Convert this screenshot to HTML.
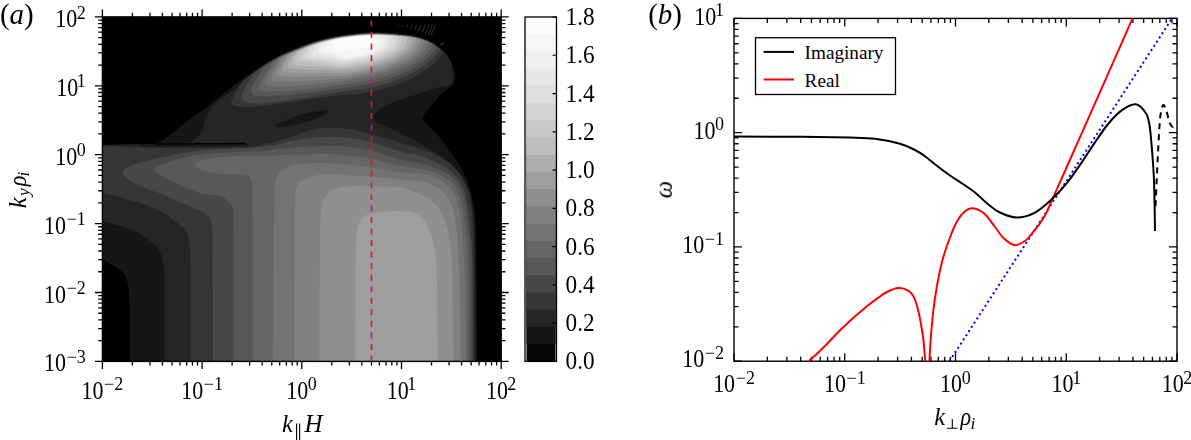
<!DOCTYPE html>
<html><head><meta charset="utf-8"><style>html,body{margin:0;padding:0;background:#fff;overflow:hidden}svg{display:block}</style></head>
<body>
<svg width="1191" height="440" viewBox="0 0 1191 440" font-family="'Liberation Serif', serif" fill="#000">
<rect width="1191" height="440" fill="#fff"/>
<g>
<rect x="102.4" y="16.9" width="398.80" height="344.50" fill="#000"/>
<path d="M104.5 260.7L106.3 261.5 107.9 262.3 109.4 263.1 110.9 264.0 112.5 265.0 114.2 266.1 116.0 267.2 117.8 268.4 119.5 269.7 121.1 271.1 122.5 272.5 123.7 273.9 124.7 275.4 125.5 276.9 126.3 278.5 126.9 280.4 127.5 282.5 128.0 285.0 128.4 287.7 128.7 290.6 128.9 293.7 129.1 296.9 129.3 300.0 129.4 302.7 129.5 304.8 129.6 307.0 129.6 309.9 129.7 314.0 129.7 320.0 129.7 329.0 129.8 340.7 129.8 353.8 129.8 361.4 477.0 361.4 477.0 361.3 476.9 345.0 476.9 328.1 476.8 312.5 476.8 300.0 476.8 290.7 476.7 283.3 476.6 277.1 476.6 271.5 476.5 266.0 476.4 260.0 476.3 253.3 476.2 246.5 476.1 239.8 476.0 233.3 475.8 227.2 475.5 221.8 475.2 217.2 474.8 213.2 474.4 209.7 473.9 206.5 473.3 203.3 472.7 200.0 472.0 196.6 471.2 193.3 470.3 190.1 469.4 187.0 468.4 183.9 467.3 180.9 466.1 178.0 464.8 175.2 463.5 172.4 462.0 169.7 460.5 167.1 459.0 164.5 457.4 161.9 455.7 159.4 454.0 157.0 452.2 154.6 450.4 152.2 448.7 149.8 447.0 147.4 445.3 145.1 443.6 142.7 441.9 140.4 440.2 138.3 438.5 136.2 436.7 134.2 434.9 132.3 433.0 130.5 431.3 128.9 429.7 127.3 428.3 126.0 427.2 124.9 426.3 124.0 425.6 123.3 425.0 122.7 424.5 122.1 424.0 121.5 423.6 120.9 423.4 120.3 423.2 119.8 423.1 119.3 423.1 118.8 423.1 118.3 423.1 117.8 423.1 117.3 423.2 116.8 423.4 116.3 423.6 115.7 424.0 115.0 424.5 114.2 425.0 113.3 425.7 112.4 426.4 111.3 427.3 110.2 428.3 108.9 429.5 107.4 430.9 105.6 432.5 103.7 434.1 101.9 435.5 100.2 436.8 98.7 437.8 97.6 438.6 96.7 439.2 96.0 440.0 95.3 440.8 94.5 441.9 93.5 443.4 92.2 445.2 90.7 447.1 89.1 449.0 87.5 450.7 86.1 452.0 85.0 452.9 84.2 453.5 83.7 453.8 83.3 454.1 82.9 454.3 82.6 454.5 82.0 454.7 81.2 454.9 80.3 455.0 79.3 455.1 78.4 455.1 77.6 455.2 77.0 455.1 76.5 455.1 75.8 455.0 74.9 454.9 74.0 454.7 73.0 454.5 72.0 454.3 71.0 454.0 70.0 453.7 68.9 453.3 67.8 452.9 66.7 452.5 65.5 452.0 64.3 451.5 63.0 450.9 61.8 450.3 60.5 449.7 59.2 449.0 58.0 448.3 56.9 447.5 55.7 446.7 54.7 445.9 53.6 445.0 52.5 444.0 51.5 443.0 50.5 441.9 49.4 440.8 48.4 439.6 47.4 438.3 46.5 437.0 45.5 435.7 44.5 434.3 43.6 432.9 42.6 431.4 41.7 429.8 40.8 428.0 40.0 426.1 39.2 424.0 38.4 421.9 37.7 419.6 37.0 417.3 36.4 415.0 35.8 412.6 35.3 410.1 34.9 407.6 34.6 405.1 34.2 402.5 34.0 400.0 33.7 397.5 33.4 394.9 33.2 392.4 33.0 389.9 32.9 387.4 32.7 385.0 32.6 382.7 32.5 380.5 32.4 378.3 32.3 376.2 32.3 374.1 32.3 372.0 32.3 369.9 32.3 367.9 32.4 365.8 32.5 363.8 32.6 361.9 32.8 360.0 32.9 358.2 33.1 356.5 33.2 354.9 33.4 353.3 33.6 351.6 33.8 350.0 34.0 348.3 34.2 346.7 34.4 345.0 34.6 343.3 34.9 341.7 35.1 340.0 35.4 338.3 35.7 336.7 36.0 335.0 36.3 333.3 36.6 331.7 36.9 330.0 37.3 328.3 37.7 326.7 38.0 325.0 38.4 323.3 38.8 321.7 39.3 320.0 39.7 318.3 40.2 316.7 40.7 315.0 41.2 313.3 41.7 311.7 42.2 310.0 42.8 308.3 43.4 306.7 44.0 305.0 44.6 303.3 45.2 301.7 45.9 300.0 46.5 298.3 47.2 296.7 47.8 295.0 48.5 293.4 49.2 291.7 49.9 290.0 50.6 288.3 51.3 286.7 52.0 285.1 52.6 283.4 53.4 281.6 54.3 279.5 55.3 277.2 56.5 274.6 57.9 271.9 59.4 269.1 61.0 266.3 62.6 263.6 64.3 261.0 66.0 258.3 67.7 255.7 69.5 253.0 71.4 250.4 73.3 247.7 75.2 245.0 77.2 242.1 79.3 239.3 81.5 236.6 83.6 233.9 85.6 231.5 87.5 229.3 89.2 227.3 90.8 225.4 92.2 223.6 93.6 221.8 95.0 220.0 96.5 218.2 98.0 216.4 99.4 214.7 100.8 212.9 102.3 211.0 103.8 209.0 105.3 206.8 107.0 204.4 108.7 201.9 110.5 199.5 112.2 197.1 113.9 195.0 115.5 193.1 116.9 191.5 118.1 190.0 119.2 188.5 120.3 186.9 121.6 185.0 123.0 182.9 124.6 180.6 126.4 178.2 128.3 175.8 130.3 173.4 132.2 171.0 134.0 168.6 135.8 166.1 137.6 163.6 139.3 161.1 141.0 158.9 142.6 157.0 144.0 102.4 145.0 102.4 260.0Z" fill="#161616" fill-rule="evenodd"/>
<path d="M106.6 222.2L111.3 223.4 116.3 224.8 121.4 226.2 126.0 227.6 130.0 229.0 133.3 230.4 136.0 231.7 138.4 233.1 140.7 234.5 142.8 236.0 145.0 237.5 147.3 239.1 149.6 240.6 151.9 242.2 154.0 243.9 155.9 245.7 157.5 247.5 158.8 249.4 159.8 251.5 160.7 253.6 161.3 255.7 161.9 257.9 162.5 260.0 163.0 262.0 163.5 264.0 163.8 265.9 164.1 268.0 164.3 270.1 164.5 272.5 164.6 275.0 164.6 277.5 164.6 280.2 164.6 283.1 164.5 286.3 164.5 290.0 164.5 293.9 164.5 297.8 164.5 302.0 164.6 306.9 164.6 312.8 164.6 320.0 164.6 329.6 164.6 341.5 164.7 354.4 164.7 361.4 475.5 361.4 475.5 361.3 475.5 345.0 475.5 328.1 475.4 312.5 475.4 300.0 475.4 290.7 475.3 283.3 475.3 277.2 475.2 271.7 475.1 266.1 475.0 260.0 474.9 253.2 474.8 246.1 474.7 239.1 474.6 232.2 474.3 225.8 474.0 220.0 473.6 214.9 473.0 210.3 472.4 206.1 471.7 202.2 470.9 198.5 470.0 195.0 468.9 191.6 467.6 188.4 466.2 185.4 464.7 182.7 463.3 180.2 462.0 178.0 460.8 176.2 459.7 174.7 458.6 173.6 457.5 172.5 456.3 171.3 455.0 170.0 453.5 168.4 451.9 166.7 450.2 164.9 448.5 163.2 446.9 161.5 445.3 160.0 443.9 158.7 442.7 157.7 441.5 156.7 440.2 155.7 438.7 154.6 436.8 153.3 434.4 151.8 431.7 150.1 428.8 148.3 425.7 146.4 422.6 144.7 419.7 143.0 416.9 141.5 414.0 140.0 411.2 138.6 408.4 137.3 405.5 135.9 402.7 134.5 399.8 133.0 396.7 131.5 393.7 129.9 390.7 128.5 388.0 127.1 385.6 126.0 383.5 125.1 381.6 124.5 379.9 124.0 378.4 123.6 377.1 123.1 376.0 122.5 375.0 121.7 374.2 120.9 373.6 120.1 373.2 119.2 372.9 118.3 372.8 117.4 372.9 116.5 373.2 115.7 373.6 114.8 374.2 113.9 375.0 113.0 376.0 112.0 377.1 111.0 378.4 109.9 379.9 108.8 381.6 107.7 383.5 106.6 385.6 105.5 388.0 104.4 390.7 103.2 393.7 102.0 396.7 100.9 399.8 99.7 402.7 98.7 405.6 97.7 408.4 96.8 411.3 96.0 414.2 95.2 417.0 94.3 419.7 93.5 422.4 92.6 425.0 91.7 427.5 90.8 430.0 90.0 432.6 89.2 435.1 88.4 437.8 87.8 440.7 87.3 443.6 86.9 446.3 86.4 448.6 85.8 450.4 85.0 451.5 83.9 452.2 82.7 452.4 81.3 452.5 79.8 452.5 78.4 452.5 77.0 452.6 75.6 452.5 74.0 452.4 72.5 452.2 71.1 452.1 69.9 452.0 69.0 451.5 63.3 450.9 62.0 450.3 60.8 449.7 59.5 449.0 58.3 448.3 57.2 447.5 56.0 446.7 55.0 445.9 53.9 445.0 52.8 444.0 51.8 443.0 50.8 441.9 49.7 440.8 48.7 439.6 47.7 438.3 46.8 437.0 45.8 435.7 44.8 434.3 43.9 432.9 42.9 431.4 42.0 429.8 41.1 428.0 40.3 426.1 39.5 424.0 38.7 421.9 38.0 419.6 37.3 417.3 36.7 415.0 36.1 412.6 35.6 410.1 35.2 407.6 34.9 405.1 34.5 402.5 34.3 400.0 34.0 397.5 33.7 394.9 33.5 392.4 33.3 389.9 33.2 387.4 33.0 385.0 32.9 382.7 32.8 380.5 32.7 378.3 32.6 376.2 32.6 374.1 32.6 372.0 32.6 369.9 32.6 367.9 32.7 365.8 32.8 363.8 32.9 361.9 33.1 360.0 33.2 358.2 33.4 356.5 33.5 354.9 33.7 353.3 33.9 351.6 34.1 350.0 34.3 348.3 34.5 346.7 34.7 345.0 34.9 343.3 35.2 341.7 35.4 340.0 35.7 338.3 36.0 336.7 36.3 335.0 36.6 333.3 36.9 331.7 37.2 330.0 37.6 328.3 38.0 326.7 38.3 325.0 38.7 323.3 39.1 321.7 39.6 320.0 40.0 318.3 40.5 316.7 41.0 315.0 41.5 313.3 42.0 311.7 42.5 310.0 43.1 308.3 43.7 306.7 44.3 305.0 44.9 303.3 45.5 301.7 46.2 300.0 46.8 298.3 47.5 296.7 48.1 295.0 48.8 293.4 49.5 291.7 50.2 290.0 50.9 288.3 51.6 286.7 52.3 285.1 52.9 283.4 53.7 281.6 54.6 279.5 55.6 277.2 56.8 276.0 58.0 274.5 59.1 272.3 60.7 269.8 62.6 267.1 64.6 264.4 66.6 262.0 68.5 259.8 70.3 257.8 72.1 255.8 73.9 253.7 75.7 251.4 77.6 249.0 79.5 246.3 81.5 243.3 83.5 240.2 85.6 237.0 87.7 233.9 89.8 231.0 91.8 228.1 93.7 225.3 95.6 222.4 97.4 219.7 99.3 217.2 101.2 215.0 103.2 213.0 105.3 211.3 107.5 209.8 109.7 208.4 112.0 207.2 114.4 206.0 116.8 205.1 119.4 204.4 122.1 203.9 124.9 203.3 127.7 202.6 130.3 201.4 132.7 199.6 134.9 197.4 137.1 194.9 139.1 192.5 140.9 190.4 142.4 189.0 143.5 102.4 145.0 102.4 221.0Z" fill="#252525" fill-rule="evenodd"/>
<path d="M327.2 111.0L326.6 110.7 325.8 110.5 324.7 110.3 323.4 110.3 321.8 110.4 320.0 110.5 318.0 110.8 315.8 111.1 313.4 111.6 310.9 112.1 308.4 112.6 305.7 113.3 303.0 114.0 300.3 114.8 297.6 115.6 294.9 116.4 292.3 117.3 289.9 118.2 287.5 119.1 285.3 120.0 283.3 120.9 281.4 121.7 279.8 122.6 278.4 123.4 277.3 124.1 276.5 124.8 275.9 125.4 275.6 126.0 275.6 126.4 275.8 126.8 276.4 127.1 277.2 127.3 278.3 127.5 279.6 127.5 281.2 127.4 283.0 127.3 285.0 127.0 287.2 126.7 289.6 126.2 292.1 125.7 294.6 125.2 297.3 124.5 300.0 123.8 302.7 123.0 305.4 122.2 308.1 121.4 310.7 120.5 313.1 119.6 315.5 118.7 317.7 117.8 319.7 116.9 321.6 116.1 323.2 115.2 324.6 114.4 325.7 113.7 326.5 113.0 327.1 112.4 327.4 111.8 327.4 111.4Z" fill="#161616" fill-rule="evenodd"/>
<path d="M273.0 104.7L313.7 98.4 328.4 96.4 343.5 94.9 358.5 94.0 373.1 91.4 385.0 88.4 393.0 85.9 403.5 81.9 412.1 77.9 419.5 73.9 428.4 67.9 435.0 62.4 440.5 56.4 442.5 53.8 443.2 52.4 442.6 51.4 440.0 48.9 435.4 45.4 430.8 42.4 426.0 40.2 419.5 38.0 413.0 36.4 407.5 35.5 397.5 34.5 387.5 33.7 376.5 33.3 368.0 33.4 360.0 33.9 348.5 35.2 338.5 36.7 328.0 38.7 318.5 41.1 310.0 43.8 300.0 47.5 285.0 53.7 279.3 56.4 269.4 61.9 260.5 67.4 249.5 75.4 243.0 80.9 239.6 84.9 234.6 93.4 231.8 99.9 231.2 102.4 231.2 103.9 232.3 104.9 233.5 105.6 237.0 106.6 244.5 107.1 250.5 106.9 260.0 106.2ZM474.0 361.3L474.0 345.0 474.0 328.1 474.0 312.5 474.0 300.0 474.0 290.6 474.0 283.0 474.0 276.6 473.9 270.9 473.9 265.6 473.8 260.0 473.7 254.4 473.6 249.1 473.5 244.1 473.4 239.3 473.2 234.6 473.0 230.0 472.8 225.5 472.5 221.1 472.3 216.9 471.9 212.8 471.5 208.8 471.0 205.0 470.4 201.3 469.8 197.9 469.1 194.5 468.2 191.3 467.2 188.1 466.0 185.0 464.6 181.9 462.9 178.9 461.1 175.9 459.2 173.1 457.1 170.5 455.0 168.0 452.8 165.8 450.5 163.8 448.1 162.0 445.5 160.3 442.8 158.6 440.0 157.0 436.9 155.4 433.6 153.8 430.2 152.4 426.7 151.0 423.3 149.7 420.0 148.5 416.8 147.5 413.5 146.6 410.3 145.8 407.3 145.1 404.5 144.4 402.0 143.7 400.1 143.0 398.8 142.5 397.7 141.9 396.5 141.3 395.0 140.7 392.9 140.0 390.0 139.2 386.6 138.2 382.9 137.2 379.0 136.2 375.1 135.2 371.4 134.3 367.8 133.3 364.1 132.4 360.5 131.4 356.9 130.5 353.4 129.6 350.0 129.0 346.8 128.5 343.7 128.2 340.8 127.9 337.9 127.8 335.0 127.7 332.0 127.7 329.0 127.7 326.0 127.7 323.1 127.9 320.1 128.1 317.1 128.5 314.0 129.0 310.8 129.8 307.6 130.8 304.3 132.0 301.1 133.3 297.9 134.4 295.0 135.5 292.2 136.4 289.5 137.4 286.9 138.2 284.5 139.1 282.2 139.8 280.0 140.5 278.2 141.1 276.7 141.6 275.3 142.0 273.9 142.3 272.2 142.7 270.0 143.0 267.6 143.3 265.2 143.6 262.5 143.8 259.3 144.0 255.2 144.2 250.0 144.5 243.4 144.8 235.6 145.2 226.9 145.6 217.8 145.9 208.7 146.2 200.0 146.5 191.6 146.7 183.2 146.8 174.8 146.9 166.5 147.0 158.2 147.0 150.0 147.0 141.4 146.9 132.2 146.7 123.1 146.5 114.7 146.3 107.6 146.1 102.4 146.0 102.4 193.0 107.2 194.2 112.9 195.6 119.0 197.1 125.2 198.7 131.1 200.3 136.4 201.8 141.0 203.3 145.2 204.7 149.1 206.1 152.8 207.6 156.4 209.2 160.0 211.0 163.7 213.1 167.4 215.6 171.1 218.1 174.4 220.7 177.5 223.0 180.0 225.0 182.0 226.5 183.4 227.6 184.5 228.6 185.4 229.5 186.1 230.6 186.8 232.0 187.4 233.8 187.9 235.8 188.2 238.0 188.5 240.3 188.7 242.6 189.0 245.0 189.3 247.1 189.6 248.9 189.9 250.8 190.1 253.1 190.3 256.0 190.5 260.0 190.6 264.7 190.7 269.8 190.7 275.6 190.7 282.4 190.7 290.4 190.7 300.0 190.7 312.5 190.7 328.1 190.7 345.0 190.7 361.3 190.7 361.4 474.0 361.4Z" fill="#363636" fill-rule="evenodd"/>
<path d="M284.1 100.9L331.0 93.2 361.5 89.1 375.0 86.5 386.5 83.4 395.5 80.4 404.5 76.8 412.5 72.9 420.3 68.4 426.7 63.9 432.5 58.9 437.4 53.4 439.6 50.4 439.9 49.4 439.0 48.4 436.5 46.4 431.4 42.9 426.2 40.4 420.4 38.4 415.0 37.0 410.0 36.0 400.0 34.9 390.0 34.0 380.5 33.6 372.0 33.5 364.0 33.8 356.5 34.4 345.0 35.8 336.5 37.2 325.0 39.6 317.0 41.8 308.5 44.5 300.9 47.4 281.5 55.6 271.8 60.9 264.4 65.4 258.1 69.9 254.1 73.4 252.2 75.9 249.3 80.4 243.8 89.9 242.1 94.4 242.0 98.4 242.5 99.7 243.6 100.9 245.0 101.7 248.3 102.9 252.0 103.5 259.5 103.4 272.0 102.4ZM472.5 361.3L472.5 345.0 472.5 328.1 472.5 312.5 472.5 300.0 472.5 290.7 472.5 283.3 472.6 277.2 472.6 271.7 472.5 266.1 472.3 260.0 472.0 253.2 471.7 246.3 471.2 239.4 470.7 232.6 470.2 226.1 469.5 220.0 468.8 214.3 468.1 208.8 467.3 203.6 466.4 198.7 465.3 194.2 464.0 190.0 462.4 186.2 460.7 182.8 458.7 179.8 456.6 177.0 454.4 174.4 452.0 172.0 449.4 169.8 446.6 167.9 443.7 166.3 440.7 164.8 437.8 163.4 435.0 162.0 432.4 160.7 430.0 159.5 427.6 158.3 425.1 157.3 422.7 156.4 420.0 155.5 417.3 154.8 414.7 154.3 412.0 153.9 409.1 153.5 405.8 152.8 402.0 151.9 397.5 150.6 392.3 148.9 386.7 147.0 381.1 145.2 375.7 143.5 371.0 142.1 366.9 141.1 363.1 140.2 359.7 139.5 356.4 138.9 353.2 138.4 350.0 138.0 346.9 137.6 343.9 137.3 341.1 137.1 338.2 136.9 335.2 136.8 332.0 136.8 328.5 136.8 324.9 136.9 321.1 137.1 317.3 137.3 313.6 137.6 310.0 138.0 306.5 138.5 303.0 139.0 299.6 139.6 296.2 140.2 293.0 140.9 290.0 141.5 287.2 142.1 284.6 142.7 282.2 143.4 279.8 144.0 277.4 144.5 275.0 145.0 272.7 145.4 270.6 145.7 268.4 146.0 266.1 146.3 263.4 146.5 260.0 146.8 255.9 147.1 251.1 147.4 245.9 147.6 240.6 147.9 235.2 148.2 230.0 148.5 224.9 148.8 219.6 149.1 214.4 149.4 209.3 149.7 204.4 150.1 200.0 150.5 196.0 150.9 192.5 151.4 189.2 151.9 186.0 152.4 183.0 153.0 180.0 153.5 177.1 154.1 174.3 154.6 171.6 155.2 168.9 155.8 166.3 156.4 163.6 157.0 160.9 157.6 158.1 158.1 155.3 158.7 152.6 159.3 149.9 159.9 147.3 160.5 144.7 161.2 142.1 162.0 139.5 162.8 137.0 163.5 134.7 164.3 132.7 165.0 131.0 165.6 129.4 166.2 128.1 166.8 126.9 167.3 125.9 167.9 125.0 168.5 124.3 169.2 123.7 169.9 123.3 170.6 123.0 171.3 122.8 172.0 122.7 172.7 122.7 173.3 122.8 174.0 123.1 174.6 123.4 175.2 123.9 175.8 124.5 176.5 125.2 177.2 126.0 178.0 127.0 178.8 128.1 179.7 129.4 180.6 131.0 181.5 132.9 182.5 135.1 183.5 137.5 184.6 140.1 185.7 142.8 186.9 145.5 188.0 148.3 189.1 151.3 190.3 154.4 191.5 157.6 192.6 160.6 193.8 163.6 195.0 166.4 196.1 169.1 197.3 171.7 198.4 174.3 199.6 177.1 200.7 180.0 202.0 183.3 203.4 186.8 204.8 190.5 206.3 194.1 207.8 197.3 209.2 200.0 210.5 202.1 211.6 203.7 212.5 205.0 213.3 206.1 214.1 207.1 215.0 208.0 216.0 208.9 217.1 209.6 218.2 210.2 219.3 210.7 220.6 211.1 222.2 211.5 224.0 211.8 225.7 212.0 227.1 212.2 228.8 212.3 231.1 212.4 234.7 212.5 240.0 212.6 247.2 212.7 255.8 212.7 265.7 212.7 276.5 212.8 288.0 212.8 300.0 212.8 313.7 212.8 329.6 212.8 346.2 212.8 361.4 472.5 361.4Z" fill="#484848" fill-rule="evenodd"/>
<path d="M286.5 95.2L312.5 92.2 348.5 87.2 363.3 84.9 373.3 82.9 383.1 80.4 392.5 77.4 401.5 73.9 410.0 69.9 417.0 65.9 423.6 61.4 429.3 56.4 434.0 51.1 436.1 47.9 436.4 46.9 435.4 45.9 432.7 43.9 428.2 41.4 421.6 38.9 416.2 37.4 410.0 36.2 402.5 35.3 392.5 34.3 383.0 33.8 374.5 33.6 368.0 33.7 353.5 34.9 336.5 37.3 326.5 39.4 318.5 41.5 311.5 43.7 303.5 46.6 283.7 54.9 277.9 57.9 271.0 61.9 266.5 64.9 264.1 66.9 262.8 68.4 261.1 70.9 254.4 81.9 251.9 86.9 251.1 90.4 251.2 91.9 251.7 92.9 253.0 94.6 254.0 95.2 257.0 96.1 264.0 96.4 273.5 96.1ZM470.5 361.3L470.5 345.0 470.5 328.1 470.5 312.5 470.5 300.0 470.5 290.7 470.6 283.3 470.6 277.2 470.6 271.7 470.6 266.1 470.4 260.0 470.1 253.2 469.7 246.2 469.3 239.2 468.8 232.4 468.2 226.0 467.5 220.0 466.8 214.5 466.0 209.3 465.2 204.4 464.3 199.9 463.2 195.8 462.0 192.0 460.7 188.7 459.3 185.8 457.7 183.3 456.0 181.1 454.1 179.0 452.0 177.0 449.5 175.1 446.8 173.4 443.8 171.9 440.8 170.5 437.8 169.2 435.0 168.0 432.4 166.9 430.0 166.0 427.6 165.1 425.1 164.4 422.7 163.7 420.0 163.0 417.3 162.5 414.7 162.1 412.0 161.8 409.1 161.5 405.8 160.9 402.0 160.1 397.5 158.8 392.3 157.2 386.7 155.3 381.1 153.5 375.7 151.8 371.0 150.5 366.9 149.5 363.1 148.8 359.7 148.2 356.4 147.8 353.2 147.4 350.0 147.0 347.0 146.7 344.3 146.4 341.7 146.2 338.9 146.0 335.8 145.9 332.0 145.9 327.4 145.9 322.1 146.1 316.4 146.2 310.7 146.4 305.1 146.7 300.0 147.0 295.3 147.3 290.8 147.8 286.4 148.2 282.3 148.7 278.5 149.1 275.0 149.5 272.1 149.8 269.8 150.1 267.8 150.3 265.7 150.5 263.3 150.8 260.0 151.0 255.9 151.2 251.1 151.5 245.9 151.7 240.6 152.0 235.2 152.2 230.0 152.5 224.9 152.8 219.6 153.1 214.4 153.3 209.3 153.7 204.4 154.0 200.0 154.5 196.0 155.0 192.5 155.6 189.2 156.3 186.0 157.0 183.0 157.7 180.0 158.5 176.9 159.3 173.9 160.2 171.0 161.1 168.2 162.0 165.7 162.9 163.6 163.6 161.9 164.2 160.5 164.7 159.4 165.1 158.5 165.6 157.7 166.0 157.0 166.5 156.3 167.1 155.7 167.7 155.2 168.3 154.8 168.9 154.6 169.5 154.5 170.0 154.5 170.5 154.6 170.8 154.9 171.2 155.3 171.6 155.8 172.0 156.5 172.5 157.3 173.1 158.1 173.7 159.1 174.4 160.4 175.2 161.8 176.0 163.6 177.0 165.8 178.1 168.2 179.4 171.0 180.8 173.9 182.2 177.0 183.6 180.0 185.0 183.1 186.4 186.3 187.9 189.7 189.4 193.1 190.8 196.5 192.1 200.0 193.2 203.7 194.0 207.7 194.5 211.7 195.0 215.5 195.3 219.0 195.8 221.8 196.5 223.9 197.4 225.4 198.5 226.5 199.6 227.4 200.8 228.2 202.0 229.0 203.0 229.8 203.7 230.5 204.1 231.1 204.5 231.7 205.1 232.1 206.2 232.5 208.0 232.8 210.1 233.0 212.3 233.2 214.9 233.3 218.5 233.4 223.4 233.5 230.0 233.6 238.7 233.7 249.2 233.7 261.1 233.7 273.8 233.8 286.9 233.8 300.0 233.8 314.3 233.8 330.4 233.8 346.9 233.8 361.4 470.5 361.4Z" fill="#585858" fill-rule="evenodd"/>
<path d="M304.1 89.4L321.0 87.4 346.0 84.1 367.7 80.4 376.6 78.4 383.9 76.4 393.0 73.4 400.5 70.4 408.8 66.4 415.7 62.4 421.9 57.9 426.4 53.9 430.5 49.0 432.9 44.9 432.6 44.4 431.4 43.4 426.6 40.9 419.4 38.4 413.3 36.9 407.5 36.0 397.5 34.9 378.5 33.8 372.0 33.8 363.5 34.1 356.5 34.7 346.5 35.9 333.0 38.2 318.5 41.7 311.5 44.0 303.5 46.9 285.5 54.4 281.4 56.4 277.0 58.9 274.2 60.9 272.7 62.4 266.2 72.4 261.5 80.4 259.4 84.9 259.0 86.4 258.9 87.9 259.5 89.9 260.1 90.4 261.5 90.9 266.0 91.4 276.0 91.4 288.0 90.8ZM468.2 361.3L468.2 345.0 468.2 328.1 468.2 312.5 468.2 300.0 468.2 290.7 468.1 283.1 468.1 276.9 468.0 271.3 467.8 265.9 467.6 260.0 467.3 253.8 467.0 247.7 466.6 241.7 466.1 235.9 465.6 230.3 465.0 225.0 464.4 219.9 463.7 215.0 463.0 210.4 462.1 206.0 461.2 201.8 460.0 198.0 458.7 194.5 457.4 191.3 455.9 188.4 454.3 185.8 452.3 183.3 450.0 181.0 447.3 178.9 444.4 177.0 441.1 175.2 437.6 173.7 433.9 172.3 430.0 171.0 425.8 169.9 421.4 169.1 416.7 168.5 411.9 167.8 406.9 167.1 402.0 166.2 396.9 165.0 391.5 163.7 386.1 162.2 380.7 160.8 375.6 159.5 371.0 158.5 366.9 157.8 363.1 157.3 359.7 156.9 356.4 156.6 353.2 156.3 350.0 156.0 347.0 155.6 344.3 155.2 341.7 154.9 338.9 154.5 335.8 154.3 332.0 154.1 327.4 154.0 322.1 154.0 316.5 154.1 310.7 154.2 305.1 154.4 300.0 154.5 295.2 154.6 290.4 154.8 285.9 155.0 281.6 155.2 277.6 155.4 274.0 155.5 271.0 155.6 268.5 155.7 266.4 155.8 264.4 155.9 262.3 156.0 260.0 156.0 257.4 156.0 254.8 156.0 252.1 156.0 249.3 156.0 246.5 156.0 243.6 156.0 240.7 156.1 237.7 156.2 234.7 156.3 231.6 156.4 228.5 156.6 225.5 156.8 222.4 157.1 219.1 157.4 215.9 157.8 212.7 158.2 209.8 158.7 207.3 159.1 205.2 159.5 203.3 160.0 201.7 160.5 200.3 161.0 199.1 161.5 198.0 162.0 197.0 162.6 196.1 163.1 195.5 163.7 194.9 164.3 194.6 164.9 194.5 165.5 194.6 166.0 194.9 166.5 195.4 167.0 196.1 167.5 197.0 168.0 198.0 168.5 199.1 169.0 200.3 169.6 201.7 170.2 203.3 170.7 205.2 171.3 207.3 171.8 209.8 172.3 212.6 172.8 215.7 173.3 218.9 173.8 222.2 174.2 225.5 174.5 229.0 174.7 232.9 174.7 236.8 174.7 240.6 174.7 243.9 174.8 246.4 175.0 248.1 175.4 249.1 175.8 249.6 176.4 249.8 177.0 250.1 177.7 250.4 178.5 250.9 179.3 251.2 180.1 251.6 181.0 251.9 182.1 252.1 183.4 252.3 185.0 252.5 186.0 252.6 186.2 252.6 186.7 252.6 188.4 252.7 192.5 252.7 200.0 252.7 211.9 252.8 227.6 252.8 245.6 252.8 264.6 252.8 283.2 252.8 300.0 252.8 316.0 252.8 332.6 252.8 348.8 252.8 361.4 468.2 361.4Z" fill="#666666" fill-rule="evenodd"/>
<path d="M311.0 84.7L346.0 80.7 368.5 76.7 375.5 75.1 383.0 73.1 392.0 70.1 399.5 67.1 406.5 63.7 413.5 59.6 419.0 55.6 423.5 51.4 427.0 46.9 429.1 42.9 428.8 42.4 428.1 41.9 423.5 39.9 417.0 37.9 412.5 36.9 405.0 35.8 395.0 34.8 376.0 33.9 368.0 34.0 360.0 34.5 343.5 36.5 331.5 38.7 318.0 42.1 306.5 46.0 291.9 51.9 282.2 56.4 279.2 58.4 277.8 59.9 271.3 69.9 267.5 76.4 265.3 80.9 264.8 82.9 264.9 83.9 266.0 85.1 269.0 86.2 275.5 86.5 285.0 86.4 296.0 85.9ZM466.0 361.3L465.9 345.0 465.8 328.1 465.7 312.5 465.5 300.0 465.3 290.7 465.1 283.1 464.9 276.9 464.6 271.3 464.3 265.9 464.0 260.0 463.7 253.8 463.3 247.6 463.0 241.6 462.6 235.7 462.1 230.2 461.5 225.0 460.9 220.2 460.2 215.6 459.5 211.3 458.6 207.3 457.7 203.5 456.5 200.0 455.2 196.7 453.8 193.7 452.3 191.0 450.6 188.5 448.7 186.2 446.4 184.0 443.8 182.0 440.9 180.2 437.8 178.7 434.5 177.3 430.9 176.0 427.3 175.0 423.5 174.2 419.5 173.7 415.4 173.4 411.1 173.2 406.6 172.9 402.0 172.4 397.0 171.7 391.7 170.8 386.2 169.9 380.8 169.0 375.7 168.2 371.0 167.5 366.9 166.9 363.1 166.5 359.7 166.1 356.4 165.7 353.2 165.3 350.0 165.0 346.9 164.6 344.1 164.3 341.4 163.9 338.6 163.6 335.5 163.4 332.0 163.2 327.8 163.1 323.1 163.1 318.0 163.1 313.1 163.2 308.4 163.3 304.5 163.5 301.3 163.8 298.5 164.1 296.1 164.5 293.9 164.9 291.9 165.4 290.0 166.0 288.1 166.7 286.4 167.4 284.9 168.2 283.5 169.1 282.2 170.0 281.0 171.0 280.0 172.0 279.1 173.1 278.3 174.2 277.6 175.4 277.0 176.6 276.5 178.0 276.0 179.5 275.6 181.0 275.3 182.7 275.0 184.4 274.8 186.2 274.6 188.0 274.5 188.9 274.4 188.6 274.3 188.4 274.3 189.4 274.3 192.9 274.2 200.0 274.1 211.7 273.9 227.4 273.7 245.4 273.5 264.5 273.3 283.2 273.2 300.0 273.1 316.0 273.1 332.6 273.0 348.8 273.0 361.4 466.0 361.4Z" fill="#737373" fill-rule="evenodd"/>
<path d="M346.5 78.0L368.0 74.1 375.0 72.5 382.0 70.6 390.5 67.7 398.0 64.7 405.0 61.2 411.2 57.4 416.5 53.4 420.5 49.4 423.4 45.4 425.1 41.4 424.8 40.9 424.0 40.4 419.9 38.9 414.2 37.4 408.3 36.4 397.5 35.2 390.0 34.6 380.5 34.2 372.0 34.1 358.0 34.8 342.0 36.8 330.0 39.2 318.5 42.1 306.0 46.4 291.5 52.4 283.5 56.4 281.7 57.9 280.6 59.4 275.5 67.4 272.3 73.4 271.6 75.4 271.4 77.4 272.0 79.9 272.5 80.4 273.5 80.8 277.5 81.3 292.0 81.4 316.5 80.4ZM460.9 361.3L460.7 345.0 460.5 328.1 460.2 312.5 460.0 300.0 459.8 290.6 459.6 283.0 459.3 276.6 459.1 270.9 458.9 265.6 458.6 260.0 458.4 254.3 458.1 249.0 457.9 243.9 457.6 239.0 457.2 234.4 456.8 230.0 456.3 225.8 455.7 221.9 455.1 218.2 454.4 214.7 453.5 211.4 452.5 208.2 451.4 205.2 450.1 202.3 448.8 199.6 447.3 197.0 445.6 194.7 443.6 192.5 441.4 190.5 439.0 188.6 436.5 187.0 433.7 185.5 430.6 184.1 427.3 183.0 423.7 182.1 419.7 181.5 415.6 181.0 411.2 180.6 406.7 180.3 402.0 179.8 397.0 179.2 391.7 178.6 386.2 178.0 380.8 177.4 375.7 176.9 371.0 176.5 366.9 176.2 363.1 176.0 359.7 175.9 356.4 175.8 353.2 175.7 350.0 175.5 346.8 175.3 343.7 175.0 340.7 174.8 337.7 174.5 334.8 174.4 332.0 174.3 329.2 174.3 326.5 174.4 323.8 174.6 321.2 174.8 318.8 175.1 316.4 175.5 314.1 176.0 311.9 176.6 309.9 177.3 307.9 178.0 306.1 178.7 304.5 179.5 303.1 180.2 301.9 181.0 300.9 181.8 300.0 182.6 299.2 183.5 298.5 184.5 297.8 185.5 297.3 186.6 296.8 187.8 296.4 189.0 296.1 190.4 295.8 192.0 295.6 192.9 295.4 192.9 295.3 193.0 295.2 194.4 295.1 198.0 295.0 205.0 294.9 216.2 294.8 231.0 294.8 248.0 294.7 266.0 294.6 283.8 294.6 300.0 294.6 315.7 294.5 332.2 294.5 348.4 294.5 361.4 460.9 361.4Z" fill="#818181" fill-rule="evenodd"/>
<path d="M349.5 75.3L356.0 73.9 365.1 72.4 371.9 70.9 379.5 68.9 387.1 66.4 393.5 63.9 400.8 60.4 406.0 57.4 411.0 53.9 414.9 50.4 417.9 46.9 420.0 43.1 420.7 40.9 420.8 39.9 419.0 38.9 415.5 37.9 407.1 36.4 391.8 34.9 374.0 34.2 364.0 34.5 353.5 35.5 340.0 37.3 328.5 39.7 318.5 42.3 308.5 45.7 296.7 50.4 288.4 54.4 287.0 55.4 286.1 56.4 281.3 63.9 277.7 70.4 276.8 72.4 276.5 73.9 276.9 74.9 278.0 75.6 280.5 76.2 283.5 76.5 296.0 76.7 318.5 76.4 345.0 75.7ZM453.3 361.3L453.2 345.0 453.1 328.1 452.9 312.5 452.8 300.0 452.7 290.5 452.5 282.5 452.4 275.7 452.2 269.9 452.0 264.8 451.8 260.0 451.6 256.0 451.4 253.0 451.1 250.6 450.8 248.6 450.5 246.4 450.0 243.6 449.5 240.2 448.8 236.6 448.2 232.8 447.4 229.0 446.5 225.3 445.5 222.0 444.4 219.0 443.2 216.1 441.9 213.3 440.5 210.8 438.9 208.3 437.0 206.0 434.9 203.8 432.6 201.8 430.1 199.9 427.5 198.2 424.7 196.5 421.8 195.0 418.8 193.5 415.6 192.2 412.3 190.9 408.9 189.8 405.5 188.8 402.0 188.0 398.4 187.4 394.8 187.0 391.0 186.7 387.3 186.6 383.6 186.5 380.0 186.3 376.5 186.1 373.2 186.0 369.8 185.9 366.5 185.8 363.3 185.8 360.0 185.8 356.7 185.9 353.3 186.0 349.9 186.2 346.6 186.4 343.6 186.8 340.9 187.2 338.6 187.7 336.5 188.3 334.6 189.0 333.0 189.7 331.4 190.6 330.0 191.5 328.7 192.5 327.5 193.6 326.5 194.8 325.6 196.1 324.8 197.5 324.0 199.0 323.3 200.6 322.8 202.3 322.3 204.0 322.0 205.9 321.6 207.9 321.3 210.0 321.0 211.6 320.8 212.5 320.7 213.5 320.5 215.4 320.4 219.0 320.3 225.0 320.2 233.9 320.0 245.2 319.9 258.1 319.8 272.0 319.7 286.2 319.6 300.0 319.5 314.6 319.5 330.7 319.5 347.2 319.4 361.4 453.3 361.4Z" fill="#8f8f8f" fill-rule="evenodd"/>
<path d="M375.8 67.4L386.6 63.9 391.6 61.9 396.9 59.4 404.6 54.9 408.5 51.9 411.2 49.4 413.5 46.6 415.0 44.1 416.1 41.4 416.4 38.9 415.8 38.4 412.2 37.4 401.3 35.9 387.5 34.8 374.0 34.3 365.5 34.6 355.0 35.4 341.5 37.2 332.8 38.9 321.5 41.7 311.4 44.9 299.8 49.4 291.4 53.4 289.5 54.9 286.5 59.4 283.4 64.9 282.6 66.9 282.3 68.4 282.5 70.4 283.5 71.7 285.3 72.4 288.0 72.8 297.0 73.0 334.0 73.2 345.5 73.2 349.0 72.9 365.5 69.9ZM437.6 361.2L437.5 344.9 437.4 328.0 437.3 312.4 437.2 300.0 437.1 290.7 437.0 282.9 436.8 276.5 436.7 271.1 436.5 266.3 436.3 262.0 436.1 258.4 435.9 255.9 435.6 254.1 435.3 252.6 435.0 251.0 434.6 249.0 434.1 246.6 433.6 244.0 433.1 241.4 432.4 238.9 431.8 236.3 431.0 234.0 430.2 231.8 429.2 229.6 428.2 227.5 427.2 225.5 426.1 223.7 425.0 222.0 423.9 220.5 422.8 219.2 421.6 217.9 420.4 216.9 419.2 215.9 418.0 215.0 416.7 214.2 415.5 213.6 414.2 213.0 412.9 212.5 411.5 212.1 410.0 211.8 408.5 211.5 407.1 211.4 405.6 211.3 403.9 211.2 402.1 211.2 400.0 211.2 397.5 211.2 394.6 211.3 391.6 211.3 388.5 211.4 385.5 211.6 382.7 211.8 380.1 212.0 377.7 212.3 375.3 212.6 373.0 213.0 370.9 213.4 369.0 214.0 367.3 214.7 365.7 215.5 364.4 216.4 363.1 217.3 362.0 218.4 361.0 219.5 360.1 220.7 359.4 222.0 358.8 223.3 358.3 224.8 357.9 226.3 357.5 228.0 357.2 229.2 356.9 230.0 356.7 230.8 356.5 232.3 356.4 235.2 356.2 240.0 356.0 246.9 355.8 255.5 355.7 265.4 355.5 276.4 355.4 288.0 355.3 300.0 355.2 313.7 355.1 329.6 355.1 346.2 355.1 361.4 437.6 361.4Z" fill="#9e9e9e" fill-rule="evenodd"/>
<path d="M355.5 69.0L365.0 67.4 375.1 64.9 385.7 61.4 394.6 57.4 399.0 54.9 402.1 52.9 405.2 50.4 408.0 47.6 410.0 44.9 411.2 42.4 411.8 39.9 411.9 38.4 411.6 37.9 410.4 37.4 407.9 36.9 394.4 35.4 382.5 34.7 372.0 34.5 364.0 34.8 355.0 35.6 341.5 37.4 333.0 39.0 323.2 41.4 314.9 43.9 304.1 47.9 296.4 51.4 294.3 52.9 291.7 56.9 288.8 61.9 288.0 63.9 287.6 65.4 287.9 66.9 289.0 67.9 290.5 68.4 293.0 68.7 336.5 70.6 345.5 70.7 349.0 70.4Z" fill="#aeaeae" fill-rule="evenodd"/>
<path d="M355.0 66.6L366.0 64.6 374.7 62.4 384.9 58.9 392.5 55.4 396.0 53.4 399.6 50.9 402.0 48.9 404.4 46.4 406.0 43.9 407.0 41.5 407.3 38.9 406.9 37.4 405.5 36.9 402.4 36.4 392.4 35.4 380.5 34.8 372.0 34.7 364.0 35.0 355.0 35.7 342.0 37.4 335.0 38.8 325.0 41.1 317.1 43.4 307.3 46.9 300.5 49.9 298.4 51.4 297.0 53.3 293.7 58.9 292.7 61.9 292.9 63.4 293.5 64.2 295.2 64.9 298.0 65.4 313.0 66.2 338.0 68.1 345.5 68.3 349.5 67.9Z" fill="#bebebe" fill-rule="evenodd"/>
<path d="M354.5 64.5L365.9 62.4 373.5 60.4 382.3 57.4 389.8 53.9 393.3 51.9 396.1 49.9 398.4 47.9 400.5 45.5 401.8 43.4 402.5 41.4 402.6 39.4 402.3 37.4 401.9 36.9 400.0 36.4 396.1 35.9 382.5 35.0 372.0 34.8 364.0 35.1 356.5 35.7 343.5 37.4 337.0 38.5 327.0 40.8 319.4 42.9 310.6 45.9 304.8 48.4 302.5 49.9 301.5 51.3 298.5 56.3 297.7 58.9 298.1 60.4 299.0 61.3 300.5 61.9 302.5 62.3 316.0 63.2 338.5 65.9 345.0 66.2 348.5 66.0Z" fill="#c8c8c8" fill-rule="evenodd"/>
<path d="M354.5 62.4L365.0 60.4 372.5 58.5 381.0 55.4 387.3 52.4 392.6 48.9 394.8 46.9 396.5 44.9 397.5 42.9 398.0 40.9 398.0 39.4 397.4 36.9 396.7 36.4 393.6 35.9 387.3 35.4 378.0 35.0 370.0 35.0 356.5 35.9 345.0 37.3 338.2 38.4 329.3 40.4 321.8 42.4 315.5 44.4 309.3 46.9 307.7 47.9 306.9 48.9 304.1 53.4 302.8 56.4 302.7 57.4 303.3 58.4 304.5 59.1 306.5 59.7 317.7 60.4 340.0 63.9 345.0 64.2 348.5 63.9Z" fill="#d4d4d4" fill-rule="evenodd"/>
<path d="M354.0 60.6L364.0 58.8 370.0 57.2 377.5 54.6 384.2 51.4 389.3 47.9 391.0 46.2 392.4 44.4 393.1 42.9 393.4 40.9 392.7 36.9 392.3 36.4 390.3 35.9 384.1 35.4 376.0 35.1 368.0 35.2 354.5 36.2 343.0 37.7 336.6 38.9 322.5 42.4 317.8 43.9 314.0 45.4 312.5 46.4 311.7 47.4 308.9 51.9 307.7 54.9 307.7 56.4 308.5 57.0 310.0 57.4 322.3 58.4 336.0 61.3 341.0 62.1 345.5 62.3 349.0 61.9Z" fill="#dedede" fill-rule="evenodd"/>
<path d="M354.0 59.1L362.0 57.6 368.5 55.9 375.5 53.4 381.5 50.4 384.4 48.4 386.1 46.9 387.5 45.2 388.5 43.4 388.8 40.9 388.3 38.4 387.7 36.4 386.4 35.9 380.2 35.4 368.0 35.4 356.5 36.2 339.8 38.4 326.9 41.4 321.8 42.9 317.8 44.4 316.9 44.9 316.0 45.9 312.4 51.9 312.3 52.9 312.5 53.9 313.6 54.9 315.0 55.4 317.9 55.9 326.0 56.6 336.6 59.4 341.3 60.4 345.0 60.7 348.5 60.4Z" fill="#e7e7e7" fill-rule="evenodd"/>
<path d="M354.0 57.6L360.8 56.4 366.4 54.9 373.2 52.4 378.0 49.9 381.8 46.9 383.1 45.4 383.9 43.9 384.2 42.4 384.2 41.4 382.9 36.4 382.0 35.9 376.0 35.5 370.0 35.5 363.5 35.8 356.5 36.3 347.7 37.4 340.7 38.4 335.9 39.4 326.2 41.9 322.4 43.4 321.1 44.9 317.5 51.4 317.9 52.4 320.0 53.4 329.5 54.4 332.5 55.3 339.0 57.9 342.0 58.8 345.0 59.2 348.5 58.9Z" fill="#f0f0f0" fill-rule="evenodd"/>
<path d="M353.0 56.4L353.5 55.9 356.0 55.8 356.5 55.5 358.1 55.4 359.0 55.0 360.5 54.9 361.0 54.5 362.5 54.4 363.0 54.0 364.0 53.9 364.5 53.6 367.0 52.9 367.5 52.5 368.5 52.4 369.0 51.9 369.5 51.9 374.5 49.3 376.5 47.9 378.0 46.4 379.0 44.9 379.5 43.6 379.5 41.4 378.2 36.4 377.2 35.9 369.5 35.7 360.0 36.2 353.5 36.8 339.0 38.9 331.0 40.9 328.3 41.9 327.7 42.4 326.3 44.9 325.0 47.9 324.4 49.9 324.3 51.4 326.5 52.1 334.0 52.7 335.8 53.4 341.0 56.3 343.5 57.4 348.0 57.4Z" fill="#f6f6f6" fill-rule="evenodd"/>
<path d="M352.0 49.0L352.5 49.2 353.3 48.9 355.5 48.7 356.5 48.4 358.5 48.2 359.4 47.9 363.5 47.3 369.5 45.7 373.5 44.2 374.7 43.4 375.0 42.9 374.7 40.9 373.7 36.9 373.5 36.4 372.5 36.0 370.5 35.8 366.7 35.9 356.5 36.6 340.2 38.9 336.4 39.9 335.1 40.4 334.6 40.9 333.6 43.4 333.2 45.9 333.5 47.4 334.5 48.7 336.5 49.8 339.0 50.5 342.0 50.7 345.5 50.4Z" fill="#fcfcfc" fill-rule="evenodd"/>
<path d="M128.0 146.4L140.0 147.6 170.0 148.3 220.0 148.0 250.0 147.2 262.0 145.6 262.0 143.4 250.0 143.8 220.0 144.2 170.0 144.6 128.0 145.2Z" fill="#252525" fill-rule="evenodd"/>
<path d="M140.0 146.2L170.0 146.5 220.0 146.2 248.0 145.4 248.0 143.7 220.0 144.1 170.0 144.5 140.0 144.9Z" fill="#161616" fill-rule="evenodd"/>
<path d="M155.0 144.2L158.9 144.2 164.3 144.1 170.6 144.0 177.4 143.9 184.1 143.9 190.0 143.8 195.3 143.8 200.6 143.7 205.6 143.7 210.6 143.7 215.3 143.6 220.0 143.6 224.7 143.6 229.6 143.5 234.4 143.4 238.7 143.4 242.3 143.3 245.0 143.3" stroke="#000" stroke-width="1.3" fill="none"/>
<path d="M398.0 24.6l-0.63 1.50M402.5 24.6l-0.84 2.00M407.4 24.6l-1.26 3.00M412.3 24.6l-1.76 4.20M416.8 24.6l-2.31 5.50M420.9 24.6l-2.86 6.80M425.4 24.6l-3.49 8.30M429.1 24.6l-3.99 9.50M432.5 24.6l-4.41 10.50M435.5 24.6l-4.70 11.20" stroke="#2e2e2e" stroke-width="1.0" fill="none"/>
<path d="M438.8 44.8L444.2 41.4L442.6 45.4Z" fill="#2a2a2a"/>
</g>
<line x1="371.49" y1="16.9" x2="371.49" y2="361.4" stroke="#e8141c" stroke-width="1.6" stroke-dasharray="6.05 5.5" stroke-dashoffset="7.95"/>
<path d="M102.40 361.40v7.50M132.41 361.40v4.20M149.97 361.40v4.20M162.43 361.40v4.20M172.09 361.40v4.20M179.98 361.40v4.20M186.66 361.40v4.20M192.44 361.40v4.20M197.54 361.40v4.20M202.10 361.40v7.50M232.11 361.40v4.20M249.67 361.40v4.20M262.13 361.40v4.20M271.79 361.40v4.20M279.68 361.40v4.20M286.36 361.40v4.20M292.14 361.40v4.20M297.24 361.40v4.20M301.80 361.40v7.50M331.81 361.40v4.20M349.37 361.40v4.20M361.83 361.40v4.20M371.49 361.40v4.20M379.38 361.40v4.20M386.06 361.40v4.20M391.84 361.40v4.20M396.94 361.40v4.20M401.50 361.40v7.50M431.51 361.40v4.20M449.07 361.40v4.20M461.53 361.40v4.20M471.19 361.40v4.20M479.08 361.40v4.20M485.76 361.40v4.20M491.54 361.40v4.20M496.64 361.40v4.20M501.20 361.40v7.50M102.40 16.90v-7.50M132.41 16.90v-4.20M149.97 16.90v-4.20M162.43 16.90v-4.20M172.09 16.90v-4.20M179.98 16.90v-4.20M186.66 16.90v-4.20M192.44 16.90v-4.20M197.54 16.90v-4.20M202.10 16.90v-7.50M232.11 16.90v-4.20M249.67 16.90v-4.20M262.13 16.90v-4.20M271.79 16.90v-4.20M279.68 16.90v-4.20M286.36 16.90v-4.20M292.14 16.90v-4.20M297.24 16.90v-4.20M301.80 16.90v-7.50M331.81 16.90v-4.20M349.37 16.90v-4.20M361.83 16.90v-4.20M371.49 16.90v-4.20M379.38 16.90v-4.20M386.06 16.90v-4.20M391.84 16.90v-4.20M396.94 16.90v-4.20M401.50 16.90v-7.50M431.51 16.90v-4.20M449.07 16.90v-4.20M461.53 16.90v-4.20M471.19 16.90v-4.20M479.08 16.90v-4.20M485.76 16.90v-4.20M491.54 16.90v-4.20M496.64 16.90v-4.20M501.20 16.90v-7.50M102.40 361.40h-7.50M102.40 340.66h-4.20M102.40 328.53h-4.20M102.40 319.92h-4.20M102.40 313.24h-4.20M102.40 307.79h-4.20M102.40 303.17h-4.20M102.40 299.18h-4.20M102.40 295.65h-4.20M102.40 292.50h-7.50M102.40 271.76h-4.20M102.40 259.63h-4.20M102.40 251.02h-4.20M102.40 244.34h-4.20M102.40 238.89h-4.20M102.40 234.27h-4.20M102.40 230.28h-4.20M102.40 226.75h-4.20M102.40 223.60h-7.50M102.40 202.86h-4.20M102.40 190.73h-4.20M102.40 182.12h-4.20M102.40 175.44h-4.20M102.40 169.99h-4.20M102.40 165.37h-4.20M102.40 161.38h-4.20M102.40 157.85h-4.20M102.40 154.70h-7.50M102.40 133.96h-4.20M102.40 121.83h-4.20M102.40 113.22h-4.20M102.40 106.54h-4.20M102.40 101.09h-4.20M102.40 96.47h-4.20M102.40 92.48h-4.20M102.40 88.95h-4.20M102.40 85.80h-7.50M102.40 65.06h-4.20M102.40 52.93h-4.20M102.40 44.32h-4.20M102.40 37.64h-4.20M102.40 32.19h-4.20M102.40 27.57h-4.20M102.40 23.58h-4.20M102.40 20.05h-4.20M102.40 16.90h-7.50M501.20 361.40h7.50M501.20 340.66h4.20M501.20 328.53h4.20M501.20 319.92h4.20M501.20 313.24h4.20M501.20 307.79h4.20M501.20 303.17h4.20M501.20 299.18h4.20M501.20 295.65h4.20M501.20 292.50h7.50M501.20 271.76h4.20M501.20 259.63h4.20M501.20 251.02h4.20M501.20 244.34h4.20M501.20 238.89h4.20M501.20 234.27h4.20M501.20 230.28h4.20M501.20 226.75h4.20M501.20 223.60h7.50M501.20 202.86h4.20M501.20 190.73h4.20M501.20 182.12h4.20M501.20 175.44h4.20M501.20 169.99h4.20M501.20 165.37h4.20M501.20 161.38h4.20M501.20 157.85h4.20M501.20 154.70h7.50M501.20 133.96h4.20M501.20 121.83h4.20M501.20 113.22h4.20M501.20 106.54h4.20M501.20 101.09h4.20M501.20 96.47h4.20M501.20 92.48h4.20M501.20 88.95h4.20M501.20 85.80h7.50M501.20 65.06h4.20M501.20 52.93h4.20M501.20 44.32h4.20M501.20 37.64h4.20M501.20 32.19h4.20M501.20 27.57h4.20M501.20 23.58h4.20M501.20 20.05h4.20M501.20 16.90h7.50" stroke="#000" stroke-width="1.3" fill="none"/>
<rect x="102.4" y="16.9" width="398.80" height="344.50" fill="none" stroke="#000" stroke-width="1.4"/>
<rect x="526.50" y="17.00" width="29.00" height="344.40" fill="rgb(7,7,7)"/>
<rect x="526.50" y="17.00" width="29.00" height="327.18" fill="rgb(22,22,22)"/>
<rect x="526.50" y="17.00" width="29.00" height="309.96" fill="rgb(37,37,37)"/>
<rect x="526.50" y="17.00" width="29.00" height="292.74" fill="rgb(54,54,54)"/>
<rect x="526.50" y="17.00" width="29.00" height="275.52" fill="rgb(72,72,72)"/>
<rect x="526.50" y="17.00" width="29.00" height="258.30" fill="rgb(88,88,88)"/>
<rect x="526.50" y="17.00" width="29.00" height="241.08" fill="rgb(102,102,102)"/>
<rect x="526.50" y="17.00" width="29.00" height="223.86" fill="rgb(115,115,115)"/>
<rect x="526.50" y="17.00" width="29.00" height="206.64" fill="rgb(129,129,129)"/>
<rect x="526.50" y="17.00" width="29.00" height="189.42" fill="rgb(143,143,143)"/>
<rect x="526.50" y="17.00" width="29.00" height="172.20" fill="rgb(158,158,158)"/>
<rect x="526.50" y="17.00" width="29.00" height="154.98" fill="rgb(174,174,174)"/>
<rect x="526.50" y="17.00" width="29.00" height="137.76" fill="rgb(190,190,190)"/>
<rect x="526.50" y="17.00" width="29.00" height="120.54" fill="rgb(200,200,200)"/>
<rect x="526.50" y="17.00" width="29.00" height="103.32" fill="rgb(212,212,212)"/>
<rect x="526.50" y="17.00" width="29.00" height="86.10" fill="rgb(222,222,222)"/>
<rect x="526.50" y="17.00" width="29.00" height="68.88" fill="rgb(231,231,231)"/>
<rect x="526.50" y="17.00" width="29.00" height="51.66" fill="rgb(240,240,240)"/>
<rect x="526.50" y="17.00" width="29.00" height="34.44" fill="rgb(246,246,246)"/>
<rect x="526.50" y="17.00" width="29.00" height="17.22" fill="rgb(252,252,252)"/>
<rect x="525.00" y="17.00" width="31.50" height="344.40" fill="none" stroke="#000" stroke-width="1.3"/>
<path d="M556.50 361.40h-4M556.50 323.13h-4M556.50 284.87h-4M556.50 246.60h-4M556.50 208.33h-4M556.50 170.07h-4M556.50 131.80h-4M556.50 93.53h-4M556.50 55.27h-4M556.50 17.00h-4" stroke="#000" stroke-width="1.2"/>
<g opacity="0.999">
<text transform="translate(565.6,369.40) scale(0.95,1)" font-size="24.5">0.0</text>
<text transform="translate(565.6,331.13) scale(0.95,1)" font-size="24.5">0.2</text>
<text transform="translate(565.6,292.87) scale(0.95,1)" font-size="24.5">0.4</text>
<text transform="translate(565.6,254.60) scale(0.95,1)" font-size="24.5">0.6</text>
<text transform="translate(565.6,216.33) scale(0.95,1)" font-size="24.5">0.8</text>
<text transform="translate(565.6,178.07) scale(0.95,1)" font-size="24.5">1.0</text>
<text transform="translate(565.6,139.80) scale(0.95,1)" font-size="24.5">1.2</text>
<text transform="translate(565.6,101.53) scale(0.95,1)" font-size="24.5">1.4</text>
<text transform="translate(565.6,63.27) scale(0.95,1)" font-size="24.5">1.6</text>
<text transform="translate(565.6,25.00) scale(0.95,1)" font-size="24.5">1.8</text>
<text transform="translate(81.43,398.80) scale(0.897,1)" font-size="24.5">10</text><text x="104.07" y="390.40" font-size="18.0">−2</text>
<text transform="translate(181.18,398.80) scale(0.897,1)" font-size="24.5">10</text><text x="203.82" y="390.40" font-size="18.0">−1</text>
<text transform="translate(286.30,398.80) scale(0.897,1)" font-size="24.5">10</text><text x="307.85" y="390.40" font-size="18.0">0</text>
<text transform="translate(386.64,398.80) scale(0.897,1)" font-size="24.5">10</text><text x="407.30" y="390.40" font-size="18.0">1</text>
<text transform="translate(485.90,398.80) scale(0.897,1)" font-size="24.5">10</text><text x="507.35" y="390.40" font-size="18.0">2</text>
<text transform="translate(44.01,371.40) scale(0.897,1)" font-size="24.5">10</text><text x="66.65" y="363.00" font-size="18.0">−3</text>
<text transform="translate(44.01,302.50) scale(0.897,1)" font-size="24.5">10</text><text x="66.65" y="294.10" font-size="18.0">−2</text>
<text transform="translate(44.01,233.60) scale(0.897,1)" font-size="24.5">10</text><text x="66.65" y="225.20" font-size="18.0">−1</text>
<text transform="translate(55.24,164.70) scale(0.897,1)" font-size="24.5">10</text><text x="76.80" y="156.30" font-size="18.0">0</text>
<text transform="translate(56.14,95.80) scale(0.897,1)" font-size="24.5">10</text><text x="76.80" y="87.40" font-size="18.0">1</text>
<text transform="translate(55.35,26.90) scale(0.897,1)" font-size="24.5">10</text><text x="76.80" y="18.50" font-size="18.0">2</text>
<text x="-0.1" y="24" font-size="29">(<tspan font-style="italic">a</tspan>)</text>
<text x="282.0" y="431.8" font-size="24.5" font-style="italic">k</text>
<text x="304.4" y="431.8" font-size="25" font-style="italic">H</text>
<g transform="translate(25.6,208.2) rotate(-90)" font-style="italic"><text x="0" y="0" font-size="24.5">k</text><text x="12.2" y="3.7" font-size="17.5">y</text><text transform="translate(21.9,0) scale(0.88,1)" font-size="25">ρ</text><text x="31.6" y="3.7" font-size="17.5">i</text></g>
</g>
<path d="M296.6 423.6V441M299.6 423.6V441" stroke="#000" stroke-width="1.1"/>
<rect x="734.0" y="18.4" width="443.0" height="342.80" fill="none" stroke="#000" stroke-width="1.4"/>
<path d="M734.00 361.20v-8.00M767.34 361.20v-4.50M786.84 361.20v-4.50M800.68 361.20v-4.50M811.41 361.20v-4.50M820.18 361.20v-4.50M827.59 361.20v-4.50M834.02 361.20v-4.50M839.68 361.20v-4.50M844.75 361.20v-8.00M878.09 361.20v-4.50M897.59 361.20v-4.50M911.43 361.20v-4.50M922.16 361.20v-4.50M930.93 361.20v-4.50M938.34 361.20v-4.50M944.77 361.20v-4.50M950.43 361.20v-4.50M955.50 361.20v-8.00M988.84 361.20v-4.50M1008.34 361.20v-4.50M1022.18 361.20v-4.50M1032.91 361.20v-4.50M1041.68 361.20v-4.50M1049.09 361.20v-4.50M1055.52 361.20v-4.50M1061.18 361.20v-4.50M1066.25 361.20v-8.00M1099.59 361.20v-4.50M1119.09 361.20v-4.50M1132.93 361.20v-4.50M1143.66 361.20v-4.50M1152.43 361.20v-4.50M1159.84 361.20v-4.50M1166.27 361.20v-4.50M1171.93 361.20v-4.50M1177.00 361.20v-8.00M734.00 18.40v8.00M767.34 18.40v4.50M786.84 18.40v4.50M800.68 18.40v4.50M811.41 18.40v4.50M820.18 18.40v4.50M827.59 18.40v4.50M834.02 18.40v4.50M839.68 18.40v4.50M844.75 18.40v8.00M878.09 18.40v4.50M897.59 18.40v4.50M911.43 18.40v4.50M922.16 18.40v4.50M930.93 18.40v4.50M938.34 18.40v4.50M944.77 18.40v4.50M950.43 18.40v4.50M955.50 18.40v8.00M988.84 18.40v4.50M1008.34 18.40v4.50M1022.18 18.40v4.50M1032.91 18.40v4.50M1041.68 18.40v4.50M1049.09 18.40v4.50M1055.52 18.40v4.50M1061.18 18.40v4.50M1066.25 18.40v8.00M1099.59 18.40v4.50M1119.09 18.40v4.50M1132.93 18.40v4.50M1143.66 18.40v4.50M1152.43 18.40v4.50M1159.84 18.40v4.50M1166.27 18.40v4.50M1171.93 18.40v4.50M1177.00 18.40v8.00M734.00 361.20h8.00M734.00 326.80h4.50M734.00 306.68h4.50M734.00 292.40h4.50M734.00 281.33h4.50M734.00 272.28h4.50M734.00 264.63h4.50M734.00 258.01h4.50M734.00 252.16h4.50M734.00 246.93h8.00M734.00 212.54h4.50M734.00 192.41h4.50M734.00 178.14h4.50M734.00 167.06h4.50M734.00 158.02h4.50M734.00 150.37h4.50M734.00 143.74h4.50M734.00 137.90h4.50M734.00 132.67h8.00M734.00 98.27h4.50M734.00 78.15h4.50M734.00 63.87h4.50M734.00 52.80h4.50M734.00 43.75h4.50M734.00 36.10h4.50M734.00 29.47h4.50M734.00 23.63h4.50M734.00 18.40h8.00M1177.00 361.20h-8.00M1177.00 326.80h-4.50M1177.00 306.68h-4.50M1177.00 292.40h-4.50M1177.00 281.33h-4.50M1177.00 272.28h-4.50M1177.00 264.63h-4.50M1177.00 258.01h-4.50M1177.00 252.16h-4.50M1177.00 246.93h-8.00M1177.00 212.54h-4.50M1177.00 192.41h-4.50M1177.00 178.14h-4.50M1177.00 167.06h-4.50M1177.00 158.02h-4.50M1177.00 150.37h-4.50M1177.00 143.74h-4.50M1177.00 137.90h-4.50M1177.00 132.67h-8.00M1177.00 98.27h-4.50M1177.00 78.15h-4.50M1177.00 63.87h-4.50M1177.00 52.80h-4.50M1177.00 43.75h-4.50M1177.00 36.10h-4.50M1177.00 29.47h-4.50M1177.00 23.63h-4.50M1177.00 18.40h-8.00" stroke="#000" stroke-width="1.3" fill="none"/>
<g fill="none" stroke-linejoin="round">
<path d="M949.5 361.2L1172 18.4" stroke="#0000ff" stroke-width="2" stroke-dasharray="2 3" />
<path d="M808.70 361.20C810.47 359.58 815.92 354.73 819.30 351.50C822.68 348.27 825.78 345.08 829.00 341.80C832.22 338.52 835.38 335.02 838.60 331.80C841.82 328.58 845.07 325.50 848.30 322.50C851.53 319.50 854.78 316.60 858.00 313.80C861.22 311.00 864.38 308.27 867.60 305.70C870.82 303.13 874.08 300.68 877.30 298.40C880.52 296.12 883.37 293.72 886.90 292.00C890.43 290.28 894.95 288.33 898.50 288.10C902.05 287.87 905.62 289.05 908.20 290.60C910.78 292.15 912.40 294.33 914.00 297.40C915.60 300.47 916.68 304.82 917.80 309.00C918.92 313.18 919.80 317.67 920.70 322.50C921.60 327.33 922.55 332.85 923.20 338.00C923.85 343.15 924.27 349.53 924.60 353.40C924.93 357.27 925.10 359.90 925.20 361.20" stroke="#ff0000" stroke-width="2"/>
<path d="M929.40 361.20C929.58 358.08 929.88 350.62 930.50 342.50C931.12 334.38 932.03 321.88 933.10 312.50C934.17 303.12 935.33 294.95 936.90 286.20C938.47 277.45 940.32 268.12 942.50 260.00C944.68 251.88 947.50 244.07 950.00 237.50C952.50 230.93 955.00 224.98 957.50 220.60C960.00 216.22 962.50 213.27 965.00 211.20C967.50 209.13 969.38 207.88 972.50 208.20C975.62 208.52 979.95 209.97 983.70 213.10C987.45 216.23 991.75 222.90 995.00 227.00C998.25 231.10 999.95 234.68 1003.20 237.70C1006.45 240.72 1010.77 244.63 1014.50 245.10C1018.23 245.57 1022.62 242.55 1025.60 240.50C1028.58 238.45 1030.13 235.50 1032.40 232.80C1034.67 230.10 1036.93 227.52 1039.20 224.30C1041.47 221.08 1043.87 217.55 1046.00 213.50C1048.13 209.45 1049.50 205.58 1052.00 200.00C1054.50 194.42 1056.33 190.48 1061.00 180.00C1065.67 169.52 1073.95 150.73 1080.00 137.10C1086.05 123.47 1091.47 111.35 1097.30 98.20C1103.13 85.05 1109.13 71.50 1115.00 58.20C1120.87 44.90 1129.58 25.03 1132.50 18.40" stroke="#ff0000" stroke-width="2"/>
<path d="M734.00 136.60C745.00 136.63 780.67 136.65 800.00 136.80C819.33 136.95 837.50 137.18 850.00 137.50C862.50 137.82 866.67 137.71 875.00 138.75C883.33 139.79 893.33 141.88 900.00 143.75C906.67 145.62 910.83 147.92 915.00 150.00C919.17 152.08 921.25 153.54 925.00 156.25C928.75 158.96 933.33 163.04 937.50 166.25C941.67 169.46 945.83 172.58 950.00 175.50C954.17 178.42 958.33 180.92 962.50 183.75C966.67 186.58 970.83 189.17 975.00 192.50C979.17 195.83 983.33 200.42 987.50 203.75C991.67 207.08 995.17 210.21 1000.00 212.50C1004.83 214.79 1010.83 217.38 1016.50 217.50C1022.17 217.62 1028.25 216.12 1034.00 213.20C1039.75 210.28 1045.47 205.10 1051.00 200.00C1056.53 194.90 1062.22 188.67 1067.20 182.60C1072.18 176.53 1076.35 170.18 1080.90 163.60C1085.45 157.02 1089.97 149.70 1094.50 143.10C1099.03 136.50 1103.57 129.45 1108.10 124.00C1112.63 118.55 1117.08 113.68 1121.70 110.40C1126.32 107.12 1131.77 103.83 1135.80 104.30C1139.83 104.77 1143.62 109.75 1145.90 113.20C1148.18 116.65 1148.48 118.87 1149.50 125.00C1150.52 131.13 1151.29 141.67 1152.00 150.00C1152.71 158.33 1153.33 166.67 1153.75 175.00C1154.17 183.33 1154.29 190.67 1154.50 200.00C1154.71 209.33 1154.92 225.83 1155.00 231.00" stroke="#000" stroke-width="2"/>
<path d="M1155.50 206.25C1155.62 203.54 1155.92 197.29 1156.25 190.00C1156.58 182.71 1157.00 172.50 1157.50 162.50C1158.00 152.50 1158.75 137.92 1159.25 130.00C1159.75 122.08 1159.84 119.17 1160.50 115.00C1161.16 110.83 1162.22 105.67 1163.20 105.00C1164.18 104.33 1165.35 108.12 1166.40 111.00C1167.45 113.88 1168.40 119.63 1169.50 122.30C1170.60 124.97 1171.75 126.97 1173.00 127.00C1174.25 127.03 1176.33 123.25 1177.00 122.50" stroke="#000" stroke-width="2" stroke-dasharray="6 5"/>
</g>
<g opacity="0.999">
<text transform="translate(713.13,392.40) scale(0.897,1)" font-size="24.5">10</text><text x="735.77" y="384.00" font-size="18.0">−2</text>
<text transform="translate(823.93,392.40) scale(0.897,1)" font-size="24.5">10</text><text x="846.57" y="384.00" font-size="18.0">−1</text>
<text transform="translate(940.10,392.40) scale(0.897,1)" font-size="24.5">10</text><text x="961.65" y="384.00" font-size="18.0">0</text>
<text transform="translate(1051.49,392.40) scale(0.897,1)" font-size="24.5">10</text><text x="1072.15" y="384.00" font-size="18.0">1</text>
<text transform="translate(1161.80,392.40) scale(0.897,1)" font-size="24.5">10</text><text x="1183.25" y="384.00" font-size="18.0">2</text>
<text transform="translate(682.21,367.40) scale(0.897,1)" font-size="24.5">10</text><text x="704.85" y="359.00" font-size="18.0">−2</text>
<text transform="translate(682.21,253.13) scale(0.897,1)" font-size="24.5">10</text><text x="704.85" y="244.73" font-size="18.0">−1</text>
<text transform="translate(693.44,138.87) scale(0.897,1)" font-size="24.5">10</text><text x="715.00" y="130.47" font-size="18.0">0</text>
<text transform="translate(694.34,24.60) scale(0.897,1)" font-size="24.5">10</text><text x="715.00" y="16.20" font-size="18.0">1</text>
<text x="648.2" y="24" font-size="29">(<tspan font-style="italic">b</tspan>)</text>
<text transform="translate(671.8,198.3) rotate(-90)" font-size="24.5" font-style="italic">ω</text>
<text x="934.2" y="424.9" font-size="24.5" font-style="italic">k</text>
<text transform="translate(960.5,424.9) scale(0.88,1)" font-size="25" font-style="italic">ρ</text>
<text x="970.6" y="428.6" font-size="17.5" font-style="italic">i</text>
</g>
<path d="M946.9 428.2H957.7M952.3 418.9V428.2" stroke="#000" stroke-width="1.1"/>
<rect x="755.5" y="37.7" width="140" height="56.8" fill="#fff" stroke="#000" stroke-width="1.3"/>
<line x1="763.6" y1="51.9" x2="794" y2="51.9" stroke="#000" stroke-width="2"/>
<line x1="763.6" y1="79.5" x2="794" y2="79.5" stroke="#f00" stroke-width="2"/>
<g opacity="0.999">
<text x="804.60" y="59.00" font-size="19.2" >Imaginary</text>
<text x="804.60" y="86.80" font-size="19.2" >Real</text>
</g>
</svg>
</body></html>
